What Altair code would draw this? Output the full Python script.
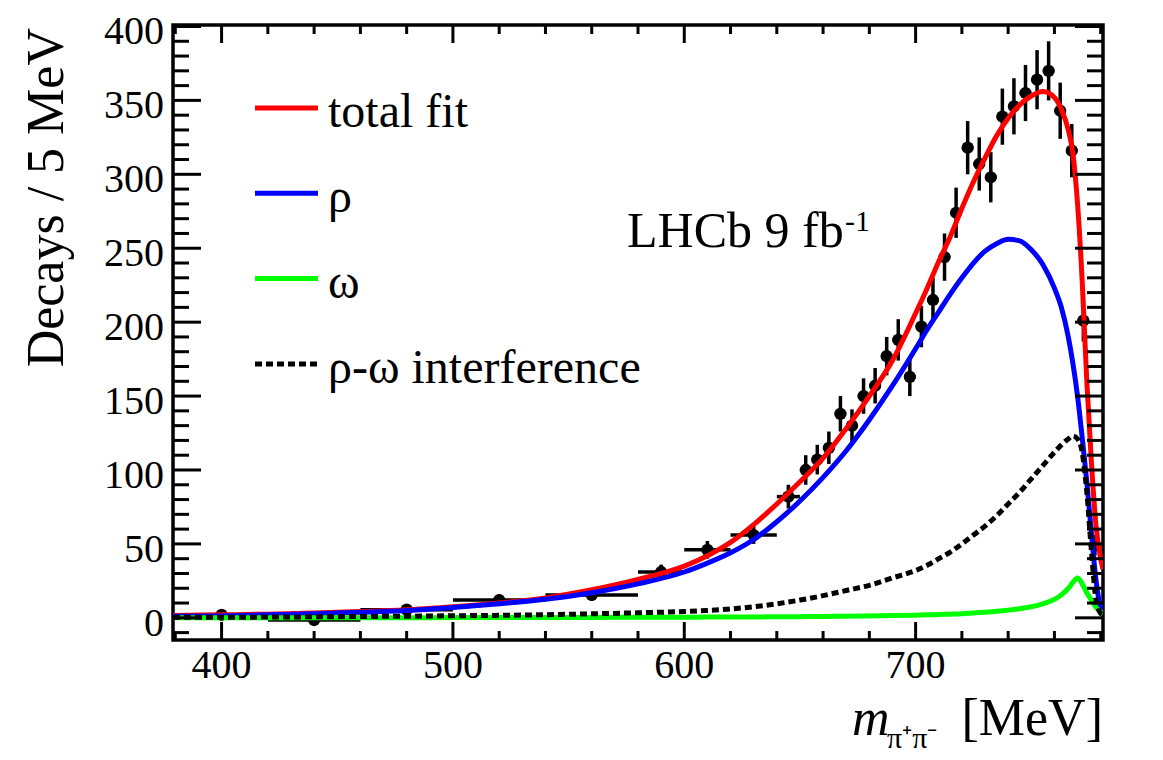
import altair as alt
import pandas as pd

# ---------------- binned data (Decays / 5 MeV) ----------------
bin_center = [400, 440, 480, 520, 560, 590, 610, 630, 645,
              652.5, 657.5, 662.5, 667.5, 672.5, 677.5, 682.5, 687.5, 692.5, 697.5,
              702.5, 707.5, 712.5, 717.5, 722.5, 727.5, 732.5, 737.5, 742.5, 747.5,
              752.5, 757.5, 762.5, 767.5, 772.5, 777.5]
bin_halfwidth = [20, 20, 20, 20, 20, 10, 10, 10, 5,
                 2.5, 2.5, 2.5, 2.5, 2.5, 2.5, 2.5, 2.5, 2.5, 2.5,
                 2.5, 2.5, 2.5, 2.5, 2.5, 2.5, 2.5, 2.5, 2.5, 2.5,
                 2.5, 2.5, 2.5, 2.5, 2.5, 2.5]
decays = [2, -1.5, 5.5, 12, 15.5, 31, 46, 56, 82,
          100, 107, 115, 138, 130, 150, 157, 177, 188, 163,
          197, 215, 244, 274, 318, 307, 298, 339, 346, 355,
          364, 370, 343, 316, 201, 49]
decay_err = [3, 3, 3.5, 4, 4, 5, 6, 6, 8,
             10, 10, 11, 12, 11, 12, 12, 13, 14, 13,
             14, 15, 16, 17, 18, 18, 17, 19, 19, 19,
             20, 20, 19, 18, 14, 7]

# ---------------- fit components ----------------
m_grid = [379, 400, 420, 440, 460, 480, 500, 520, 540, 560, 580, 600, 610, 620, 630,
          640, 650, 660, 670, 680, 690, 700, 705, 710, 715, 720, 725, 730, 735, 740,
          745, 750, 755, 760, 763, 766, 768, 770, 772, 774, 776, 778, 780, 781]
total_fit = [1.5, 2, 2.5, 3.2, 4.2, 5.5, 7.5, 10, 13.5, 19, 26, 35, 42, 51, 63,
             77, 92, 108, 128, 150, 174, 206, 223, 241, 258, 277, 295, 311, 326, 338,
             347, 353, 356, 352, 344, 330, 314, 280, 228, 160, 105, 62, 40, 33]
rho = [1, 1.3, 2, 2.7, 3.7, 5, 7, 9.5, 12.5, 17, 23, 31, 37, 44, 53,
       65, 79, 95, 113, 134, 157, 182, 195, 207, 219, 230, 240, 248, 253, 256,
       255, 249, 239, 223, 210, 190, 172, 150, 122, 92, 57, 25, 7, 3]
omega = [0, 0, 0, 0.05, 0.1, 0.1, 0.15, 0.2, 0.25, 0.3, 0.35, 0.4, 0.5, 0.55, 0.6,
         0.7, 0.8, 0.9, 1.1, 1.3, 1.5, 1.8, 2, 2.2, 2.5, 2.8, 3.3, 3.8, 4.4, 5.2,
         6.2, 7.5, 9.5, 12.5, 15.5, 20, 24, 27, 23, 17, 12, 7, 4, 3]
interference = [0.3, 0.4, 0.5, 0.7, 0.9, 1.1, 1.4, 1.7, 2.1, 2.7, 3.4, 4.3, 5, 6, 7.5,
                9.5, 12, 15, 18.5, 22, 27, 32, 35.5, 40, 44.5, 50, 56, 62, 69, 77,
                85, 94, 103, 112, 117, 121, 123, 121, 112, 85, 45, 12, 3, 2]

# ---------------- axis ticks ----------------
x_major = [400, 500, 600, 700]
x_minor = [380, 420, 440, 460, 480, 520, 540, 560, 580, 620, 640, 660, 680, 720, 740, 760, 780]
y_major = [0, 50, 100, 150, 200, 250, 300, 350, 400]
y_minor = [v for v in range(-10, 400, 10) if v % 50 != 0]

legend_labels = ["total fit", "\u03c1", "\u03c9", "\u03c1-\u03c9 interference"]
legend_colors = ["#ff0000", "#0000ff", "#00ff00", "#000000"]

FONT = "Liberation Serif"
W, H = 930, 615
DASH = [7, 4]

xs = alt.Scale(domain=[379, 781], nice=False, zero=False)
ys = alt.Scale(domain=[-15, 401], nice=False, zero=False)

pts = pd.DataFrame({"m": bin_center, "v": decays})
pts["lo"] = [v - e for v, e in zip(decays, decay_err)]
pts["hi"] = [v + e for v, e in zip(decays, decay_err)]
pts["mlo"] = [m - h for m, h in zip(bin_center, bin_halfwidth)]
pts["mhi"] = [m + h for m, h in zip(bin_center, bin_halfwidth)]

curves = pd.DataFrame({"m": m_grid, "total": total_fit, "rho": rho,
                       "omega": omega, "intf": interference})

points = alt.Chart(pts).mark_point(filled=True, size=150, color="black", opacity=1).encode(
    x=alt.X("m:Q", scale=xs, axis=None),
    y=alt.Y("v:Q", scale=ys, axis=None))
err_v = alt.Chart(pts).mark_rule(color="black", strokeWidth=3.5).encode(
    x=alt.X("m:Q", scale=xs, axis=None),
    y=alt.Y("lo:Q", scale=ys, axis=None), y2="hi:Q")
err_h = alt.Chart(pts).mark_rule(color="black", strokeWidth=3.5).encode(
    x=alt.X("mlo:Q", scale=xs, axis=None), x2="mhi:Q",
    y=alt.Y("v:Q", scale=ys, axis=None))


def curve(field, color, dash=None):
    kw = dict(color=color, strokeWidth=5, interpolate="monotone", clip=True)
    if dash:
        kw["strokeDash"] = dash
    return alt.Chart(curves).mark_line(**kw).encode(
        x=alt.X("m:Q", scale=xs, axis=None),
        y=alt.Y(f"{field}:Q", scale=ys, axis=None))


red = curve("total", legend_colors[0])
blue = curve("rho", legend_colors[1])
green = curve("omega", legend_colors[2])
dotted = curve("intf", legend_colors[3], DASH)


def xticks(vals, length):
    df = pd.DataFrame({"m": vals})
    b = alt.Chart(df).mark_rule(color="black", strokeWidth=3).encode(
        x=alt.X("m:Q", scale=xs, axis=None), y=alt.value(H), y2=alt.value(H - length))
    t = alt.Chart(df).mark_rule(color="black", strokeWidth=3).encode(
        x=alt.X("m:Q", scale=xs, axis=None), y=alt.value(0), y2=alt.value(length))
    return [b, t]


def yticks(vals, length):
    df = pd.DataFrame({"v": vals})
    l = alt.Chart(df).mark_rule(color="black", strokeWidth=3).encode(
        y=alt.Y("v:Q", scale=ys, axis=None), x=alt.value(0), x2=alt.value(length))
    r = alt.Chart(df).mark_rule(color="black", strokeWidth=3).encode(
        y=alt.Y("v:Q", scale=ys, axis=None), x=alt.value(W), x2=alt.value(W - length))
    return [l, r]


# tick labels, placed through the scales
xlab = alt.Chart(pd.DataFrame({"m": x_major})).mark_text(
    font=FONT, fontSize=40, color="black", align="center", baseline="alphabetic").encode(
    x=alt.X("m:Q", scale=xs, axis=None), y=alt.value(H + 38), text="m:Q")
ylab = alt.Chart(pd.DataFrame({"v": y_major})).mark_text(
    font=FONT, fontSize=40, color="black", align="right", baseline="alphabetic", dy=18).encode(
    y=alt.Y("v:Q", scale=ys, axis=None), x=alt.value(-9), text="v:Q")

one = alt.Data(values=[{"a": 1}])


def label(text, x, y, size, align="left", **kw):
    return alt.Chart(one).mark_text(text=text, font=FONT, fontSize=size, align=align,
                                    baseline="alphabetic", color="black", **kw).encode(
        x=alt.value(x), y=alt.value(y))


legend_layers = []
for i, (lab, col) in enumerate(zip(legend_labels, legend_colors)):
    ly = 83 + 85.3 * i
    kw = dict(color=col, strokeWidth=5)
    if i == 3:
        kw["strokeDash"] = DASH
    legend_layers.append(alt.Chart(one).mark_rule(**kw).encode(
        x=alt.value(82), x2=alt.value(145), y=alt.value(ly)))
    legend_layers.append(label(lab, 155, ly + 19, 48))

texts = [
    label("LHCb 9 fb", 454, 222, 50),
    label("-1", 672, 206, 30),
    label("Decays / 5 MeV", -110, 3, 52, align="right", angle=270),
    label("m", 679, 710, 52, fontStyle="italic"),
    label("\u03c0\u207a\u03c0\u207b", 714, 723, 30),
    label("[MeV]", 930, 710, 52, align="right"),
]

layers = ([points, err_v, err_h, red, blue, green, dotted]
          + xticks(x_major, 18) + xticks(x_minor, 9)
          + yticks(y_major, 28) + yticks(y_minor, 16)
          + [xlab, ylab] + legend_layers + texts)

chart = alt.layer(*layers).properties(
    width=W, height=H,
    autosize=alt.AutoSizeParams(type="none"),
    padding={"left": 165, "top": 17, "right": 30, "bottom": 118},
    background="white",
).configure_view(stroke="black", strokeWidth=3.5)

chart.save("out.html", embed_options={"renderer": "svg", "actions": False})
